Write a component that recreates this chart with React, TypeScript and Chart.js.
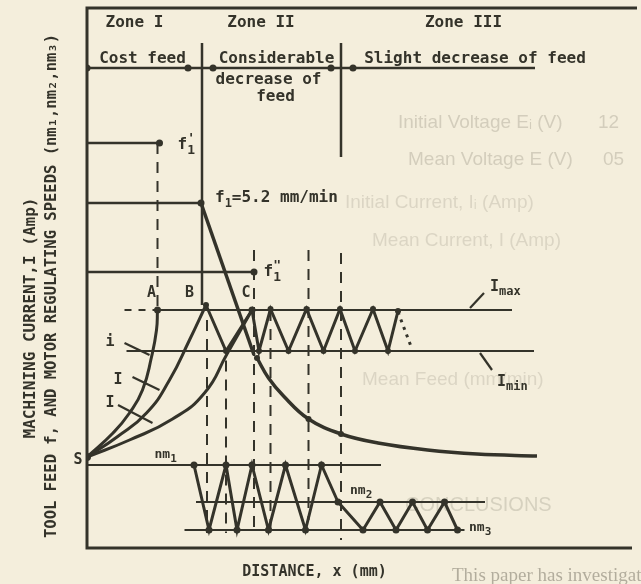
import React, { useEffect, useRef } from "react";
import { Chart, registerables } from "chart.js";

Chart.register(...registerables);

const INK = "#34332a";
const PAPER = "#f4eedc";
const FONT = '"DejaVu Sans Mono"';

// ---- levels (arbitrary schematic units) ----
const iMaxLevel = 47.6;
const iMinLevel = 39.4;
const nm1Level = 16.6;
const nm2Level = 9.2;
const nm3Level = 3.6;
const f1pLevel = 81;
const f1Level = 69;
const f1ppLevel = 55.2;
const headerLevel = 96;

// ---- current build-up curves from S ----
const curveA: number[][] = [[0, 18.2], [5.2, 23], [8.5, 27], [11.1, 31.6], [12.9, 38.2], [13.9, 43.6], [14.1, 47.6]];
const curveB: number[][] = [[0, 18.2], [6, 22.2], [11.9, 27], [16.5, 33.6], [20.5, 41.6], [23.8, 48.6]];
const curveC: number[][] = [[0, 18.2], [8.5, 21.6], [17.1, 25.8], [23.5, 31], [28, 38.8], [33, 47.6]];

// ---- current oscillation between Imax and Imin ----
const currentWaveX = [23.8, 27.8, 33, 34.4, 36.7, 40.3, 43.9, 47.3, 50.6, 53.6, 57.2, 60.2, 62.2];
const currentWaveY = [48.6, 39.4, 47.6, 39.4, 47.8, 39.4, 47.8, 39.4, 47.8, 39.4, 47.8, 39.4, 47.4];
const currentTail: number[][] = [[62.2, 47.2], [64.7, 40.6]];

// ---- tool feed ----
const feedDrop: number[][] = [[22.8, 69], [33.4, 38.6]];
const feedDecay: number[][] = [[34, 38], [36.3, 34], [39.3, 30.4], [44.3, 25.8], [50.8, 22.8], [58.2, 21], [68.1, 19.6], [78, 18.8], [90, 18.4]];
const feedDecayDots = [3, 0, 0, 3, 3, 0, 0, 0, 0];
const f1pEnd = 14.5;
const f1End = 22.8;
const f1ppEnd = 33.4;

// ---- motor regulating speed wave ----
const motorWaveX = [21.4, 24.4, 27.8, 30, 33, 36.3, 39.7, 43.7, 46.9, 50.2, 55.2, 58.6, 61.8, 65.1, 68.1, 71.5, 74.1];
const motorWaveY = [16.6, 3.6, 16.6, 3.6, 16.6, 3.6, 16.6, 3.6, 16.6, 9.2, 3.6, 9.2, 3.6, 9.2, 3.6, 9.2, 3.6];

// ---- horizontal reference lines [xStart, xEnd] ----
const iMaxSpan = [14.1, 85];
const iMaxDashSpan = [7.5, 14.1];
const iMinSpan = [7.9, 89.4];
const nm1Span = [0, 58.8];
const nm2Span = [21.8, 79.6];
const nm3Span = [19.5, 75.5];
const headerSpan = [0, 89.6];
const headerDots = [0, 20.2, 25.2, 48.8, 53.2];

// ---- verticals [x, yTop, yBottom] ----
const zoneLines: number[][] = [[23, 101, 48.6], [50.8, 101, 78.2]];
const dashedLines: number[][] = [
  [14.1, 81, 47.6],
  [24, 45.6, 3],
  [27.8, 37.5, 3],
  [33.4, 59.6, 2.6],
  [36.7, 47.6, 3.6],
  [44.3, 59.6, 5.6],
  [50.8, 59, 1.6],
];

// ---- leader lines ----
const leaders: number[][][] = [
  [[7.5, 41], [12.5, 38.6]],
  [[9.1, 34.2], [14.5, 31.6]],
  [[6.2, 28.6], [13.1, 25]],
  [[76.6, 48], [79.4, 51]],
  [[78.6, 39], [81, 35.6]],
];

// ---- text ----
const headerTexts: [string, number, number][] = [
  ["Zone I", 9.5, 105],
  ["Zone II", 34.8, 105],
  ["Zone III", 75.3, 105],
  ["Cost feed", 11.1, 97.8],
  ["Considerable", 37.9, 97.8],
  ["decrease of", 36.3, 93.6],
  ["feed", 37.7, 90.2],
  ["Slight decrease of feed", 77.6, 97.8],
];
const pointLabels: [string, number, number][] = [
  ["A", 12.9, 51],
  ["B", 20.5, 51],
  ["C", 31.8, 51],
  ["i", 4.6, 41.2],
  ["I", 6.2, 33.6],
  ["I", 4.6, 29],
  ["S", -1.8, 17.6],
];
const xTitle = "DISTANCE, x (mm)";
const yTitle1 = "MACHINING CURRENT,I (Amp)";
const yTitle2 = "TOOL FEED f, AND MOTOR REGULATING SPEEDS (nm₁,nm₂,nm₃)";
const ghostTexts: [string, number, number, number, string][] = [
  ["Initial Voltage Eᵢ (V)", 398, 123, 0.2, '19px "Liberation Sans"'],
  ["12", 598, 123, 0.2, '19px "Liberation Sans"'],
  ["Mean Voltage E (V)", 408, 160, 0.2, '19px "Liberation Sans"'],
  ["05", 603, 160, 0.2, '19px "Liberation Sans"'],
  ["Initial Current, Iᵢ (Amp)", 345, 203, 0.15, '19px "Liberation Sans"'],
  ["Mean Current, I (Amp)", 372, 241, 0.15, '19px "Liberation Sans"'],
  ["Mean Feed (mm/min)", 362, 380, 0.15, '19px "Liberation Sans"'],
  ["CONCLUSIONS", 405, 505, 0.18, '20px "Liberation Sans"'],
  ["This paper has investigated effects carried out", 452, 576, 0.4, '19px "Liberation Serif"'],
];

const pts = (arr: number[][]) => arr.map(([x, y]) => ({ x, y }));
const zip = (xs: number[], ys: number[]) => xs.map((x, i) => ({ x, y: ys[i] }));
const hline = (span: number[], y: number) => [{ x: span[0], y }, { x: span[1], y }];

function ds(data: any[], extra: any = {}) {
  return {
    data,
    showLine: true,
    borderColor: INK,
    backgroundColor: INK,
    borderWidth: 2,
    pointRadius: 0,
    pointBackgroundColor: INK,
    pointBorderWidth: 0,
    tension: 0,
    ...extra,
  };
}

function buildDatasets() {
  const out: any[] = [];
  out.push(ds(hline(headerSpan, headerLevel), { borderWidth: 2.5 }));
  out.push(ds(headerDots.map((x) => ({ x, y: headerLevel })), { showLine: false, pointRadius: 3.5 }));
  zoneLines.forEach(([x, t, b]) => out.push(ds([{ x, y: t }, { x, y: b }], { borderWidth: 2.5 })));
  dashedLines.forEach(([x, t, b]) => out.push(ds([{ x, y: t }, { x, y: b }], { borderWidth: 2, borderDash: [11, 8] })));
  out.push(ds(hline([0, f1pEnd], f1pLevel), { borderWidth: 2.5, pointRadius: [0, 3.5] }));
  out.push(ds(hline([0, f1End], f1Level), { borderWidth: 2.5, pointRadius: [0, 3.5] }));
  out.push(ds(hline([0, f1ppEnd], f1ppLevel), { borderWidth: 2.5, pointRadius: [0, 3.5] }));
  out.push(ds(pts(feedDrop), { borderWidth: 3.5 }));
  out.push(ds(pts(feedDecay), { borderWidth: 3.5, tension: 0.4, pointRadius: feedDecayDots }));
  out.push(ds(hline(iMaxSpan, iMaxLevel), { borderWidth: 2, pointRadius: [3.5, 0] }));
  out.push(ds(hline(iMaxDashSpan, iMaxLevel), { borderWidth: 2, borderDash: [7, 7] }));
  out.push(ds(hline(iMinSpan, iMinLevel), { borderWidth: 2 }));
  out.push(ds(pts(curveA), { borderWidth: 3, tension: 0.5 }));
  out.push(ds(pts(curveB), { borderWidth: 3, tension: 0.5 }));
  out.push(ds(pts(curveC), { borderWidth: 3, tension: 0.5, pointRadius: [4, 0, 0, 0, 0, 3.5] }));
  out.push(ds(zip(currentWaveX, currentWaveY), { borderWidth: 3, pointRadius: 3 }));
  out.push(ds(pts(currentTail), { borderWidth: 3, borderDash: [3, 5] }));
  leaders.forEach((l) => out.push(ds(pts(l), { borderWidth: 2.2 })));
  out.push(ds(hline(nm1Span, nm1Level), { borderWidth: 2 }));
  out.push(ds(hline(nm2Span, nm2Level), { borderWidth: 2 }));
  out.push(ds(hline(nm3Span, nm3Level), { borderWidth: 2 }));
  out.push(ds(zip(motorWaveX, motorWaveY), { borderWidth: 3, pointRadius: 3.5 }));
  return out;
}

const textPlugin = {
  id: "schematicText",
  beforeDraw(chart: any) {
    const { ctx, width, height } = chart;
    ctx.save();
    ctx.fillStyle = PAPER;
    ctx.fillRect(0, 0, width, height);
    ctx.textBaseline = "middle";
    ctx.textAlign = "left";
    ghostTexts.forEach(([t, x, y, a, f]) => {
      ctx.fillStyle = `rgba(80,76,62,${a})`;
      ctx.font = f;
      ctx.fillText(t, x, y);
    });
    ctx.restore();
  },
  afterDatasetsDraw(chart: any) {
    const { ctx, chartArea } = chart;
    const X = (v: number) => chart.scales.x.getPixelForValue(v);
    const Y = (v: number) => chart.scales.y.getPixelForValue(v);
    ctx.save();
    ctx.strokeStyle = INK;
    ctx.lineWidth = 3;
    ctx.beginPath();
    ctx.moveTo(chartArea.right, chartArea.top);
    ctx.lineTo(chartArea.left, chartArea.top);
    ctx.lineTo(chartArea.left, chartArea.bottom);
    ctx.lineTo(chartArea.right - 5, chartArea.bottom);
    ctx.stroke();

    ctx.fillStyle = INK;
    ctx.textBaseline = "middle";
    ctx.textAlign = "center";
    ctx.font = `bold 16px ${FONT}`;
    headerTexts.forEach(([t, x, y]) => ctx.fillText(t, X(x), Y(y)));
    ctx.font = `bold 15px ${FONT}`;
    pointLabels.forEach(([t, x, y]) => ctx.fillText(t, X(x), Y(y)));

    const sub = (base: string, s: string, x: number, y: number, size: number, subSize: number, sup?: string) => {
      ctx.textAlign = "left";
      ctx.font = `bold ${size}px ${FONT}`;
      ctx.fillText(base, x, y);
      const w = ctx.measureText(base).width;
      ctx.font = `bold ${subSize}px ${FONT}`;
      ctx.fillText(s, x + w, y + size * 0.35);
      if (sup) ctx.fillText(sup, x + w, y - size * 0.4);
      return x + w + ctx.measureText(s).width;
    };
    sub("f", "1", X(18.1), Y(80.6), 16, 13, "'");
    sub("f", "1", X(35.3), Y(55.2), 16, 13, "\"");
    const after = sub("f", "1", X(25.6), Y(70), 16, 12);
    ctx.font = `bold 16px ${FONT}`;
    ctx.fillText("=5.2 mm/min", after, Y(70));
    sub("nm", "1", X(13.5), Y(18.6), 13, 11);
    sub("nm", "2", X(52.6), Y(11.4), 13, 11);
    sub("nm", "3", X(76.4), Y(4), 13, 11);
    sub("I", "max", X(80.6), Y(52.2), 15, 12);
    sub("I", "min", X(82), Y(33.2), 15, 12);

    ctx.textAlign = "center";
    ctx.font = `bold 15px ${FONT}`;
    ctx.fillText(xTitle, X(45.5), Y(-4.8));

    const rot = (t: string, x: number, y: number) => {
      ctx.save();
      ctx.translate(x, y);
      ctx.rotate(-Math.PI / 2);
      ctx.fillText(t, 0, 0);
      ctx.restore();
    };
    ctx.font = `bold 16px ${FONT}`;
    rot(yTitle1, X(-11.2), Y(46));
    ctx.font = `bold 15.5px ${FONT}`;
    rot(yTitle2, X(-7), Y(52.4));
    ctx.restore();
  },
};

export default function App() {
  const ref = useRef<HTMLCanvasElement>(null);
  useEffect(() => {
    const canvas = ref.current!;
    const chart = new Chart(canvas, {
      type: "scatter",
      data: { datasets: buildDatasets() },
      options: {
        animation: false,
        responsive: false,
        devicePixelRatio: 1,
        events: [],
        layout: { padding: { left: 87, right: 0, top: 8, bottom: 36 } },
        scales: {
          x: { type: "linear", min: 0, max: 110, display: false },
          y: { type: "linear", min: 0, max: 108, display: false },
        },
        plugins: { legend: { display: false }, tooltip: { enabled: false } },
      } as any,
      plugins: [textPlugin],
    });
    return () => chart.destroy();
  }, []);
  return (
    <div style={{ position: "fixed", left: 0, top: 0, width: 641, height: 584, background: PAPER }}>
      <canvas ref={ref} width={641} height={584} style={{ display: "block", width: 641, height: 584 }} />
    </div>
  );
}
